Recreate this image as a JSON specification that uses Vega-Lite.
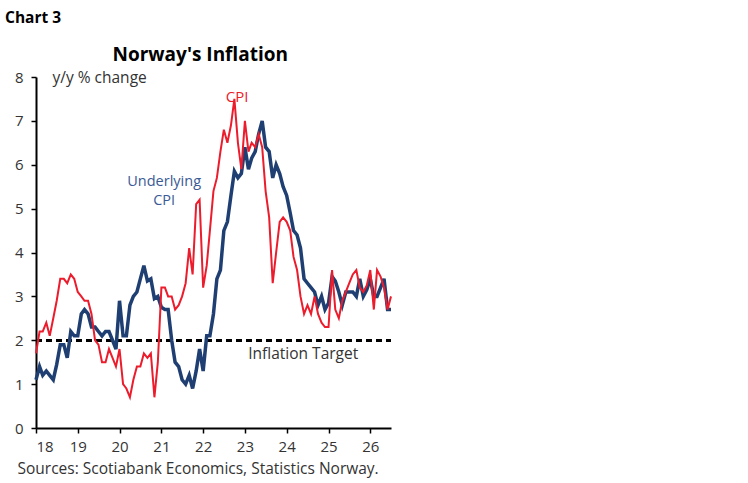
{
  "$schema": "https://vega.github.io/schema/vega-lite/v6.json",
  "width": 355,
  "height": 351,
  "autosize": "none",
  "padding": {"left": 36, "top": 77, "right": 357, "bottom": 55},
  "background": "white",
  "config": {
    "font": "Open Sans",
    "view": {"stroke": null},
    "axis": {"grid": false, "domainColor": "black", "domainWidth": 2, "tickColor": "black", "tickWidth": 1.5, "tickSize": 5, "labelFontSize": 15, "labelColor": "#333333", "labelFont": "Open Sans"}
  },
  "title": {
    "text": "Chart 3",
    "fontSize": 15.5,
    "fontWeight": "bold",
    "font": "Open Sans",
    "color": "black",
    "anchor": "start",
    "frame": "group",
    "dx": -31,
    "offset": 20
  },
  "data": {
    "values": [
      {"date": "2018-01-01", "cpi": 1.7, "core": 1.1},
      {"date": "2018-02-01", "cpi": 2.2, "core": 1.4},
      {"date": "2018-03-01", "cpi": 2.2, "core": 1.2},
      {"date": "2018-04-01", "cpi": 2.4, "core": 1.3},
      {"date": "2018-05-01", "cpi": 2.1, "core": 1.2},
      {"date": "2018-06-01", "cpi": 2.5, "core": 1.1},
      {"date": "2018-07-01", "cpi": 2.9, "core": 1.45},
      {"date": "2018-08-01", "cpi": 3.4, "core": 1.9},
      {"date": "2018-09-01", "cpi": 3.4, "core": 1.9},
      {"date": "2018-10-01", "cpi": 3.3, "core": 1.6},
      {"date": "2018-11-01", "cpi": 3.5, "core": 2.2},
      {"date": "2018-12-01", "cpi": 3.4, "core": 2.1},
      {"date": "2019-01-01", "cpi": 3.1, "core": 2.1},
      {"date": "2019-02-01", "cpi": 3.0, "core": 2.6},
      {"date": "2019-03-01", "cpi": 2.9, "core": 2.7},
      {"date": "2019-04-01", "cpi": 2.9, "core": 2.6},
      {"date": "2019-05-01", "cpi": 2.6, "core": 2.3},
      {"date": "2019-06-01", "cpi": 2.0, "core": 2.3},
      {"date": "2019-07-01", "cpi": 1.9, "core": 2.2},
      {"date": "2019-08-01", "cpi": 1.5, "core": 2.1},
      {"date": "2019-09-01", "cpi": 1.5, "core": 2.2},
      {"date": "2019-10-01", "cpi": 1.8, "core": 2.2},
      {"date": "2019-11-01", "cpi": 1.6, "core": 2.0},
      {"date": "2019-12-01", "cpi": 1.4, "core": 1.8},
      {"date": "2020-01-01", "cpi": 1.8, "core": 2.9},
      {"date": "2020-02-01", "cpi": 1.0, "core": 2.1},
      {"date": "2020-03-01", "cpi": 0.9, "core": 2.1},
      {"date": "2020-04-01", "cpi": 0.7, "core": 2.8},
      {"date": "2020-05-01", "cpi": 1.1, "core": 3.0},
      {"date": "2020-06-01", "cpi": 1.4, "core": 3.1},
      {"date": "2020-07-01", "cpi": 1.4, "core": 3.4},
      {"date": "2020-08-01", "cpi": 1.7, "core": 3.7},
      {"date": "2020-09-01", "cpi": 1.6, "core": 3.35},
      {"date": "2020-10-01", "cpi": 1.7, "core": 3.4},
      {"date": "2020-11-01", "cpi": 0.7, "core": 2.95},
      {"date": "2020-12-01", "cpi": 1.5, "core": 3.0},
      {"date": "2021-01-01", "cpi": 3.2, "core": 2.75},
      {"date": "2021-02-01", "cpi": 3.2, "core": 2.7},
      {"date": "2021-03-01", "cpi": 3.0, "core": 2.7},
      {"date": "2021-04-01", "cpi": 3.0, "core": 2.0},
      {"date": "2021-05-01", "cpi": 2.7, "core": 1.5},
      {"date": "2021-06-01", "cpi": 2.8, "core": 1.4},
      {"date": "2021-07-01", "cpi": 3.0, "core": 1.1},
      {"date": "2021-08-01", "cpi": 3.3, "core": 1.0},
      {"date": "2021-09-01", "cpi": 4.1, "core": 1.2},
      {"date": "2021-10-01", "cpi": 3.5, "core": 0.9},
      {"date": "2021-11-01", "cpi": 5.1, "core": 1.3},
      {"date": "2021-12-01", "cpi": 5.2, "core": 1.8},
      {"date": "2022-01-01", "cpi": 3.2, "core": 1.3},
      {"date": "2022-02-01", "cpi": 3.7, "core": 2.1},
      {"date": "2022-03-01", "cpi": 4.5, "core": 2.1},
      {"date": "2022-04-01", "cpi": 5.4, "core": 2.6},
      {"date": "2022-05-01", "cpi": 5.7, "core": 3.4},
      {"date": "2022-06-01", "cpi": 6.3, "core": 3.6},
      {"date": "2022-07-01", "cpi": 6.8, "core": 4.5},
      {"date": "2022-08-01", "cpi": 6.5, "core": 4.7},
      {"date": "2022-09-01", "cpi": 6.9, "core": 5.3},
      {"date": "2022-10-01", "cpi": 7.5, "core": 5.85},
      {"date": "2022-11-01", "cpi": 6.5, "core": 5.7},
      {"date": "2022-12-01", "cpi": 5.9, "core": 5.8},
      {"date": "2023-01-01", "cpi": 7.0, "core": 6.4},
      {"date": "2023-02-01", "cpi": 6.3, "core": 5.9},
      {"date": "2023-03-01", "cpi": 6.5, "core": 6.15},
      {"date": "2023-04-01", "cpi": 6.4, "core": 6.3},
      {"date": "2023-05-01", "cpi": 6.7, "core": 6.7},
      {"date": "2023-06-01", "cpi": 6.4, "core": 7.0},
      {"date": "2023-07-01", "cpi": 5.4, "core": 6.4},
      {"date": "2023-08-01", "cpi": 4.8, "core": 6.3},
      {"date": "2023-09-01", "cpi": 3.3, "core": 5.7},
      {"date": "2023-10-01", "cpi": 4.0, "core": 6.0},
      {"date": "2023-11-01", "cpi": 4.7, "core": 5.8},
      {"date": "2023-12-01", "cpi": 4.8, "core": 5.5},
      {"date": "2024-01-01", "cpi": 4.7, "core": 5.3},
      {"date": "2024-02-01", "cpi": 4.5, "core": 4.9},
      {"date": "2024-03-01", "cpi": 3.9, "core": 4.5},
      {"date": "2024-04-01", "cpi": 3.6, "core": 4.4},
      {"date": "2024-05-01", "cpi": 3.0, "core": 4.1},
      {"date": "2024-06-01", "cpi": 2.6, "core": 3.4},
      {"date": "2024-07-01", "cpi": 2.8, "core": 3.3},
      {"date": "2024-08-01", "cpi": 2.6, "core": 3.2},
      {"date": "2024-09-01", "cpi": 3.0, "core": 3.1},
      {"date": "2024-10-01", "cpi": 2.6, "core": 2.8},
      {"date": "2024-11-01", "cpi": 2.4, "core": 3.0},
      {"date": "2024-12-01", "cpi": 2.3, "core": 2.7},
      {"date": "2025-01-01", "cpi": 2.3, "core": 2.85},
      {"date": "2025-02-01", "cpi": 3.6, "core": 3.45},
      {"date": "2025-03-01", "cpi": 2.7, "core": 3.35},
      {"date": "2025-04-01", "cpi": 2.5, "core": 3.1},
      {"date": "2025-05-01", "cpi": 2.9, "core": 2.8},
      {"date": "2025-06-01", "cpi": 3.1, "core": 3.1},
      {"date": "2025-07-01", "cpi": 3.3, "core": 3.1},
      {"date": "2025-08-01", "cpi": 3.5, "core": 3.1},
      {"date": "2025-09-01", "cpi": 3.6, "core": 3.0},
      {"date": "2025-10-01", "cpi": 3.2, "core": 3.4},
      {"date": "2025-11-01", "cpi": 3.1, "core": 3.0},
      {"date": "2025-12-01", "cpi": 3.25, "core": 3.15},
      {"date": "2026-01-01", "cpi": 3.6, "core": 3.4},
      {"date": "2026-02-01", "cpi": 2.7, "core": 3.0},
      {"date": "2026-03-01", "cpi": 3.6, "core": 3.0},
      {"date": "2026-04-01", "cpi": 3.45, "core": 3.2},
      {"date": "2026-05-01", "cpi": 3.2, "core": 3.4},
      {"date": "2026-06-01", "cpi": 2.7, "core": 2.7},
      {"date": "2026-07-01", "cpi": 3.0, "core": 2.7}
    ]
  },
  "encoding": {
    "x": {
      "field": "date",
      "type": "temporal",
      "scale": {
        "type": "utc",
        "nice": false,
        "domain": [
          {"year": 2018, "month": 1, "date": 1, "utc": true},
          {"year": 2026, "month": 7, "date": 1, "utc": true}
        ]
      },
      "axis": {
        "values": [
          {"year": 2018, "month": 1, "date": 1, "utc": true},
          {"year": 2019, "month": 1, "date": 1, "utc": true},
          {"year": 2020, "month": 1, "date": 1, "utc": true},
          {"year": 2021, "month": 1, "date": 1, "utc": true},
          {"year": 2022, "month": 1, "date": 1, "utc": true},
          {"year": 2023, "month": 1, "date": 1, "utc": true},
          {"year": 2024, "month": 1, "date": 1, "utc": true},
          {"year": 2025, "month": 1, "date": 1, "utc": true},
          {"year": 2026, "month": 1, "date": 1, "utc": true}
        ],
        "format": "%y",
        "labelPadding": 6,
        "title": "Sources: Scotiabank Economics, Statistics Norway.",
        "titleFont": "Open Sans",
        "titleFontSize": 15.5,
        "titleFontWeight": "normal",
        "titleColor": "#333333",
        "titleAnchor": "start",
        "titleAlign": "left",
        "titleX": -19,
        "titleY": 40,
        "titleBaseline": "middle"
      }
    }
  },
  "layer": [
    {
      "mark": {"type": "rule", "strokeDash": [6, 4], "strokeWidth": 2, "color": "black"},
      "encoding": {
        "x": {"value": 0},
        "x2": {"value": 355},
        "y": {"datum": 2, "type": "quantitative"}
      }
    },
    {
      "mark": {"type": "line", "color": "#1f3f72", "strokeWidth": 3.5},
      "encoding": {
        "y": {
          "field": "core",
          "type": "quantitative",
          "scale": {"domain": [0, 8], "nice": false},
          "axis": {
            "values": [0, 1, 2, 3, 4, 5, 6, 7, 8],
            "labelPadding": 8,
            "title": "y/y % change",
            "titleAngle": 0,
            "titleAlign": "left",
            "titleBaseline": "middle",
            "titleX": 16,
            "titleY": 0,
            "titleFont": "Open Sans",
            "titleFontSize": 15.5,
            "titleFontWeight": "normal",
            "titleColor": "#333333"
          }
        }
      }
    },
    {
      "mark": {"type": "line", "color": "#ec1c2c", "strokeWidth": 2},
      "encoding": {
        "y": {"field": "cpi", "type": "quantitative"}
      }
    },
    {
      "data": {"values": [{"date": "2021-01-25", "v": 5.6, "label": ["Underlying", "CPI"]}]},
      "mark": {"type": "text", "color": "#3a5a94", "fontSize": 14.5, "font": "Open Sans", "align": "center", "baseline": "middle", "lineHeight": 19},
      "encoding": {
        "y": {"field": "v", "type": "quantitative"},
        "text": {"field": "label"}
      }
    },
    {
      "data": {"values": [{"date": "2022-10-25", "v": 7.55, "label": "CPI"}]},
      "mark": {"type": "text", "color": "#ec1c2c", "fontSize": 15, "font": "Open Sans", "align": "center", "baseline": "middle"},
      "encoding": {
        "y": {"field": "v", "type": "quantitative"},
        "text": {"field": "label"}
      }
    },
    {
      "data": {"values": [{"date": "2024-05-25", "v": 1.69, "label": "Inflation Target"}]},
      "mark": {"type": "text", "color": "#333333", "fontSize": 15.5, "font": "Open Sans", "align": "center", "baseline": "middle"},
      "encoding": {
        "y": {"field": "v", "type": "quantitative"},
        "text": {"field": "label"}
      }
    },
    {
      "data": {"values": [{"date": "2021-12-07", "v": 8.5, "label": "Norway's Inflation"}]},
      "mark": {"type": "text", "color": "black", "fontSize": 19, "fontWeight": "bold", "font": "Open Sans", "align": "center", "baseline": "middle", "clip": false},
      "encoding": {
        "y": {"field": "v", "type": "quantitative"},
        "text": {"field": "label"}
      }
    }
  ]
}
